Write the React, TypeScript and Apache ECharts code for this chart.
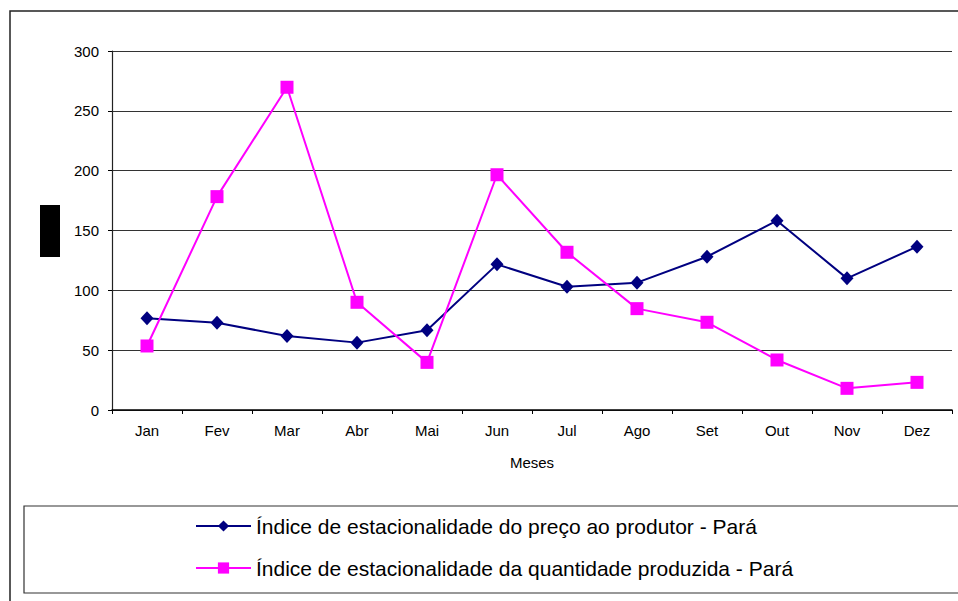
import React, { useEffect, useRef } from "react";
import * as echarts from "echarts";

// Months of the year (Portuguese abbreviations)
const months = ["Jan", "Fev", "Mar", "Abr", "Mai", "Jun", "Jul", "Ago", "Set", "Out", "Nov", "Dez"];

// Seasonality index of the producer price - Pará
const priceIndex = [76.6, 73, 61.8, 56.3, 66.6, 121.7, 103, 106.4, 128.1, 158.2, 110, 136.5];

// Seasonality index of the quantity produced - Pará
const quantityIndex = [53.5, 178.3, 269.7, 90, 39.8, 196.6, 131.8, 84.7, 73.3, 41.8, 18.1, 23.1];

const priceName = "Índice de estacionalidade do preço ao produtor - Pará";
const quantityName = "Índice de estacionalidade da quantidade produzida - Pará";

const FONT = "'Liberation Sans', Arial, sans-serif";

export default function App() {
  const ref = useRef<HTMLDivElement>(null);

  useEffect(() => {
    if (!ref.current) return;
    const chart = echarts.init(ref.current, undefined, { renderer: "svg" });
    chart.setOption({
      animation: false,
      backgroundColor: "#ffffff",
      textStyle: { fontFamily: FONT },
      grid: { left: 112, right: 6, top: 51, bottom: 191 },
      graphic: [
        {
          type: "rect",
          shape: { x: 10, y: 11, width: 960, height: 600 },
          style: { fill: "none", stroke: "#222", lineWidth: 1.5 },
          silent: true,
        },
        {
          type: "rect",
          shape: { x: 24, y: 506, width: 950, height: 87 },
          style: { fill: "none", stroke: "#333", lineWidth: 1.2 },
          silent: true,
        },
        {
          type: "rect",
          shape: { x: 40, y: 205, width: 20, height: 52 },
          style: { fill: "#000" },
          silent: true,
        },
      ],
      legend: {
        orient: "vertical",
        left: 195,
        top: 515,
        itemWidth: 55,
        itemHeight: 14,
        itemGap: 20,
        padding: 0,
        textStyle: { fontFamily: FONT, fontSize: 21, lineHeight: 22, color: "#000" },
        data: [priceName, quantityName],
      },
      xAxis: {
        type: "category",
        data: months,
        boundaryGap: true,
        name: "Meses",
        nameLocation: "middle",
        nameGap: 45,
        nameTextStyle: { fontFamily: FONT, fontSize: 15, color: "#000" },
        axisLine: { lineStyle: { color: "#000", width: 1.5 } },
        axisTick: { show: true, length: 4, lineStyle: { color: "#000" } },
        axisLabel: { fontFamily: FONT, fontSize: 15, color: "#000", margin: 13 },
        splitLine: { show: false },
      },
      yAxis: {
        type: "value",
        min: 0,
        max: 300,
        interval: 50,
        axisLine: { show: true, lineStyle: { color: "#222", width: 1.2 } },
        axisTick: { show: true, length: 4, lineStyle: { color: "#000" } },
        axisLabel: { fontFamily: FONT, fontSize: 15, color: "#000", margin: 13 },
        splitLine: { show: true, lineStyle: { color: "#333", width: 1 } },
      },
      series: [
        {
          name: priceName,
          type: "line",
          data: priceIndex,
          symbol: "diamond",
          symbolSize: [13, 14],
          lineStyle: { color: "#000080", width: 2 },
          itemStyle: { color: "#000080" },
        },
        {
          name: quantityName,
          type: "line",
          data: quantityIndex,
          symbol: "rect",
          symbolSize: 13,
          lineStyle: { color: "#ff00ff", width: 2 },
          itemStyle: { color: "#ff00ff" },
        },
      ],
    });
    return () => chart.dispose();
  }, []);

  return (
    <div
      ref={ref}
      style={{ position: "fixed", left: 0, top: 0, width: 958, height: 601 }}
    />
  );
}
